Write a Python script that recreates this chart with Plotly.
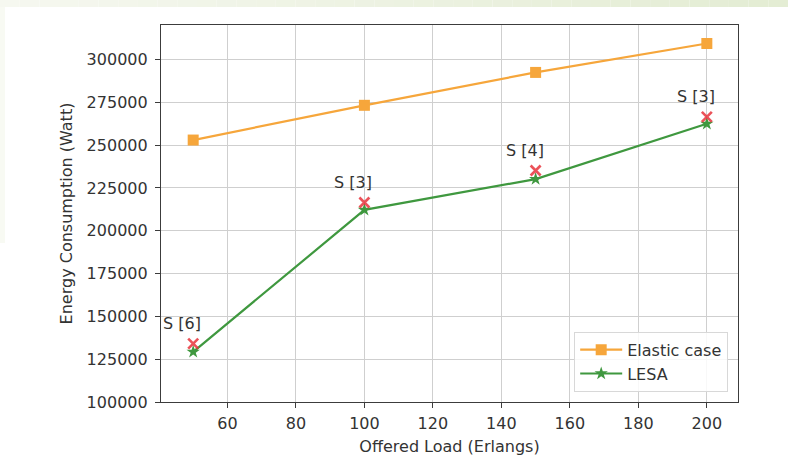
import plotly.graph_objects as go

# Offered load (Erlangs) and energy consumption (Watt)
offered_load = [50, 100, 150, 200]
elastic_case = [253000, 273300, 292500, 309400]
lesa = [129300, 212200, 230200, 262500]
# upper bound of the LESA solution, annotated with the number of servers
lesa_bound = [134100, 216500, 235200, 266500]
server_labels = ["S [6]", "S [3]", "S [4]", "S [3]"]

x_ticks = [60, 80, 100, 120, 140, 160, 180, 200]
y_ticks = [100000, 125000, 150000, 175000, 200000, 225000, 250000, 275000, 300000]

ORANGE = "#f6a63b"
GREEN = "#3f983f"
RED = "rgba(232,52,60,0.85)"
TEXT = "#333333"
FONT = "DejaVu Sans"

fig = go.Figure()

fig.add_trace(go.Scatter(
    x=offered_load, y=elastic_case, name="Elastic case",
    mode="lines+markers",
    line=dict(color=ORANGE, width=2.2),
    marker=dict(symbol="square", size=11, color=ORANGE),
))
fig.add_trace(go.Scatter(
    x=offered_load, y=lesa, name="LESA",
    mode="lines+markers",
    line=dict(color=GREEN, width=2.2),
    marker=dict(symbol="star", size=10, color=GREEN),
))
fig.add_trace(go.Scatter(
    x=offered_load, y=lesa_bound, showlegend=False,
    mode="markers",
    marker=dict(symbol="x-thin", size=10, line=dict(color=RED, width=2.6)),
))

for xv, yv, lab in zip(offered_load, lesa_bound, server_labels):
    fig.add_annotation(
        x=xv, y=yv, text=lab, showarrow=False,
        xshift=-11, yshift=20,
        font=dict(family=FONT, size=16, color=TEXT),
    )

# faint tinted strips along the top and left edges of the page
shapes = []
n_steps = 40
for i in range(n_steps):
    t = i / (n_steps - 1)
    r = int(246 - 18 * t)
    g = int(248 - 11 * t)
    b = int(240 - 28 * t)
    shapes.append(dict(
        type="rect", xref="paper", yref="paper", layer="below",
        x0=-161 / 577 + i * (788 / 577) / n_steps,
        x1=-161 / 577 + (i + 1) * (788 / 577) / n_steps,
        y0=(402 - 7) / 377, y1=402 / 377,
        fillcolor=f"rgb({r},{g},{b})", line=dict(width=0),
    ))
shapes.append(dict(
    type="rect", xref="paper", yref="paper", layer="below",
    x0=-161 / 577, x1=-156 / 577, y0=(402 - 243) / 377, y1=(402 - 7) / 377,
    fillcolor="rgb(248,250,243)", line=dict(width=0),
))

axis_common = dict(
    showgrid=True, gridcolor="#cfcfcf", gridwidth=1,
    showline=True, linecolor="#3c3c3c", linewidth=1.2, mirror=True,
    ticks="outside", ticklen=5, tickcolor="#3c3c3c", tickwidth=1.2,
    zeroline=False,
    tickfont=dict(family=FONT, size=16, color=TEXT),
)

fig.update_layout(
    width=788, height=469,
    margin=dict(l=161, r=50, t=25, b=67),
    paper_bgcolor="white", plot_bgcolor="white",
    font=dict(family=FONT, size=16, color=TEXT),
    shapes=shapes,
    xaxis=dict(
        range=[40.6, 209.1], tickvals=x_ticks,
        ticklabelstandoff=2,
        title=dict(text="Offered Load (Erlangs)", standoff=8,
                   font=dict(family=FONT, size=16, color=TEXT)),
        **axis_common,
    ),
    yaxis=dict(
        range=[100000, 320200], tickvals=y_ticks, tickformat="d",
        ticklabelstandoff=4,
        title=dict(text="Energy Consumption (Watt)", standoff=10,
                   font=dict(family=FONT, size=16, color=TEXT)),
        **axis_common,
    ),
    legend=dict(
        x=0.983, y=0.027, xanchor="right", yanchor="bottom",
        bgcolor="rgba(255,255,255,0.85)", bordercolor="#d8d8d8", borderwidth=1,
        font=dict(family=FONT, size=16, color=TEXT),
        tracegroupgap=0, itemwidth=42,
    ),
)

fig.write_html("out.html")
